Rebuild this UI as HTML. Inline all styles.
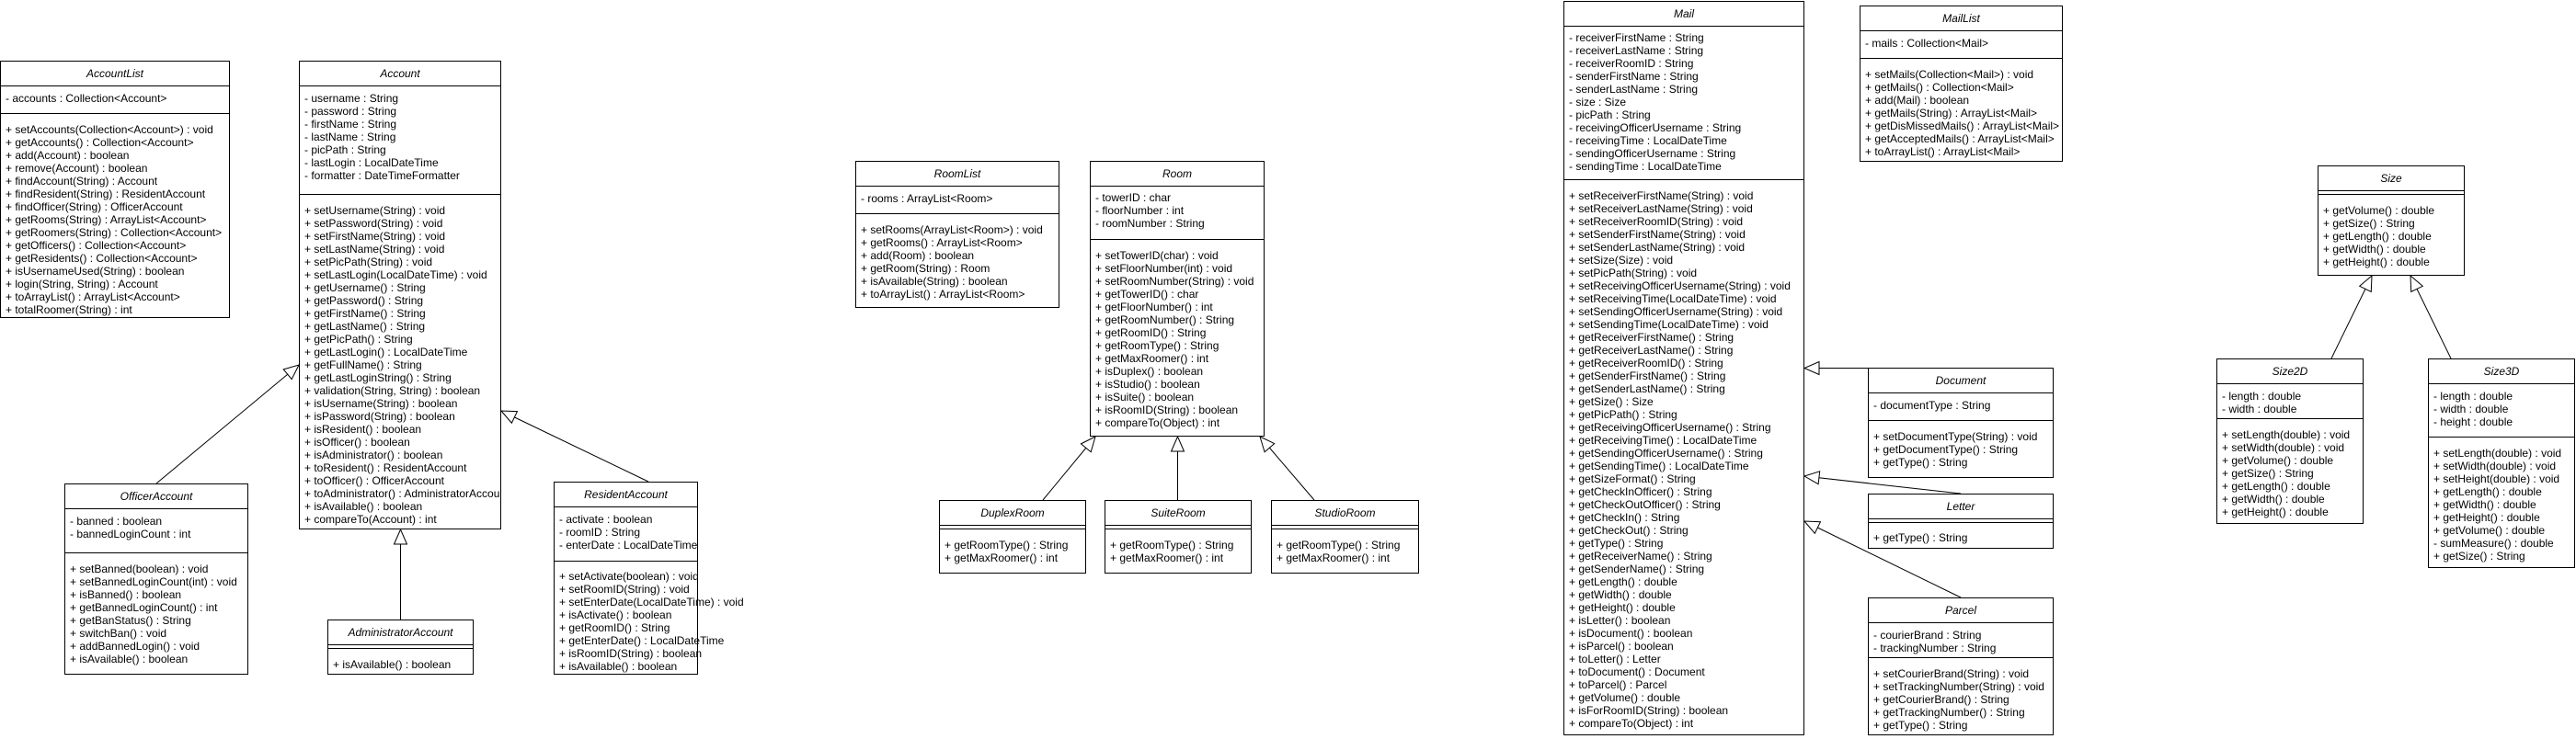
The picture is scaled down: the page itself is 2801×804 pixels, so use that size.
<!DOCTYPE html>
<html><head><meta charset="utf-8"><style>
body{margin:0;width:2801px;height:804px;background:#fff;position:relative;overflow:hidden;font-family:"Liberation Sans",Arial,sans-serif;color:#000}
.b{position:absolute;border:1px solid #000;box-sizing:border-box;background:#fff}
.h{position:absolute;left:0;right:0;top:0;height:26px;line-height:26px;text-align:center;font-style:italic;font-size:12px}
.l{position:absolute;left:0;right:0;border-top:1px solid #000;height:0}
.t{position:absolute;left:5px;line-height:14px;white-space:pre;font-size:12px}
svg{position:absolute;left:0;top:0}
</style></head><body>
<svg width="2801" height="804">
<defs><marker id="tri" markerUnits="userSpaceOnUse" markerWidth="20" markerHeight="18" refX="17" refY="8" orient="auto"><path d="M1,1 L17,8 L1,15 Z" fill="#fff" stroke="#000"/></marker></defs>
<g stroke="#000" stroke-width="1" fill="none">
<line x1="170" y1="526" x2="325" y2="397" marker-end="url(#tri)"/>
<line x1="435.5" y1="674" x2="435.5" y2="576" marker-end="url(#tri)"/>
<line x1="705" y1="524" x2="545" y2="447" marker-end="url(#tri)"/>
<line x1="1134" y1="544" x2="1191" y2="475" marker-end="url(#tri)"/>
<line x1="1280.5" y1="544" x2="1280.5" y2="475" marker-end="url(#tri)"/>
<line x1="1429" y1="544" x2="1370" y2="475" marker-end="url(#tri)"/>
<line x1="2032" y1="400.5" x2="1962" y2="400.5" marker-end="url(#tri)"/>
<line x1="2132" y1="537" x2="1962" y2="518" marker-end="url(#tri)"/>
<line x1="2132" y1="650" x2="1962" y2="567" marker-end="url(#tri)"/>
<line x1="2535" y1="390" x2="2579" y2="300" marker-end="url(#tri)"/>
<line x1="2665" y1="390" x2="2621" y2="300" marker-end="url(#tri)"/>
</g></svg>

<div class="b" style="left:0;top:66px;width:250px;height:280px"><div class="h">AccountList</div><div class="l" style="top:26px"></div>
<div class="t" style="top:33px">- accounts : Collection&lt;Account&gt;</div><div class="l" style="top:56px"></div>
<div class="t" style="top:67px">+ setAccounts(Collection&lt;Account&gt;) : void
+ getAccounts() : Collection&lt;Account&gt;
+ add(Account) : boolean
+ remove(Account) : boolean
+ findAccount(String) : Account
+ findResident(String) : ResidentAccount
+ findOfficer(String) : OfficerAccount
+ getRooms(String) : ArrayList&lt;Account&gt;
+ getRoomers(String) : Collection&lt;Account&gt;
+ getOfficers() : Collection&lt;Account&gt;
+ getResidents() : Collection&lt;Account&gt;
+ isUsernameUsed(String) : boolean
+ login(String, String) : Account
+ toArrayList() : ArrayList&lt;Account&gt;
+ totalRoomer(String) : int</div></div>

<div class="b" style="left:325px;top:66px;width:220px;height:510px;overflow:hidden"><div class="h">Account</div><div class="l" style="top:26px"></div>
<div class="t" style="top:33px">- username : String
- password : String
- firstName : String
- lastName : String
- picPath : String
- lastLogin : LocalDateTime
- formatter : DateTimeFormatter</div><div class="l" style="top:144px"></div>
<div class="t" style="top:155px">+ setUsername(String) : void
+ setPassword(String) : void
+ setFirstName(String) : void
+ setLastName(String) : void
+ setPicPath(String) : void
+ setLastLogin(LocalDateTime) : void
+ getUsername() : String
+ getPassword() : String
+ getFirstName() : String
+ getLastName() : String
+ getPicPath() : String
+ getLastLogin() : LocalDateTime
+ getFullName() : String
+ getLastLoginString() : String
+ validation(String, String) : boolean
+ isUsername(String) : boolean
+ isPassword(String) : boolean
+ isResident() : boolean
+ isOfficer() : boolean
+ isAdministrator() : boolean
+ toResident() : ResidentAccount
+ toOfficer() : OfficerAccount
+ toAdministrator() : AdministratorAccount
+ isAvailable() : boolean
+ compareTo(Account) : int</div></div>

<div class="b" style="left:70px;top:526px;width:200px;height:208px"><div class="h">OfficerAccount</div><div class="l" style="top:26px"></div>
<div class="t" style="top:33px">- banned : boolean
- bannedLoginCount : int</div><div class="l" style="top:74px"></div>
<div class="t" style="top:85px">+ setBanned(boolean) : void
+ setBannedLoginCount(int) : void
+ isBanned() : boolean
+ getBannedLoginCount() : int
+ getBanStatus() : String
+ switchBan() : void
+ addBannedLogin() : void
+ isAvailable() : boolean</div></div>

<div class="b" style="left:356px;top:674px;width:159px;height:60px"><div class="h">AdministratorAccount</div><div class="l" style="top:26px"></div><div class="l" style="top:30px"></div>
<div class="t" style="top:41px">+ isAvailable() : boolean</div></div>

<div class="b" style="left:602px;top:524px;width:157px;height:210px"><div class="h">ResidentAccount</div><div class="l" style="top:26px"></div>
<div class="t" style="top:33px">- activate : boolean
- roomID : String
- enterDate : LocalDateTime</div><div class="l" style="top:85px"></div>
<div class="t" style="top:95px">+ setActivate(boolean) : void
+ setRoomID(String) : void
+ setEnterDate(LocalDateTime) : void
+ isActivate() : boolean
+ getRoomID() : String
+ getEnterDate() : LocalDateTime
+ isRoomID(String) : boolean
+ isAvailable() : boolean</div></div>

<div class="b" style="left:930px;top:175px;width:222px;height:160px"><div class="h">RoomList</div><div class="l" style="top:26px"></div>
<div class="t" style="top:33px">- rooms : ArrayList&lt;Room&gt;</div><div class="l" style="top:56px"></div>
<div class="t" style="top:67px">+ setRooms(ArrayList&lt;Room&gt;) : void
+ getRooms() : ArrayList&lt;Room&gt;
+ add(Room) : boolean
+ getRoom(String) : Room
+ isAvailable(String) : boolean
+ toArrayList() : ArrayList&lt;Room&gt;</div></div>

<div class="b" style="left:1185px;top:175px;width:190px;height:300px"><div class="h">Room</div><div class="l" style="top:26px"></div>
<div class="t" style="top:32px">- towerID : char
- floorNumber : int
- roomNumber : String</div><div class="l" style="top:84px"></div>
<div class="t" style="top:95px">+ setTowerID(char) : void
+ setFloorNumber(int) : void
+ setRoomNumber(String) : void
+ getTowerID() : char
+ getFloorNumber() : int
+ getRoomNumber() : String
+ getRoomID() : String
+ getRoomType() : String
+ getMaxRoomer() : int
+ isDuplex() : boolean
+ isStudio() : boolean
+ isSuite() : boolean
+ isRoomID(String) : boolean
+ compareTo(Object) : int</div></div>

<div class="b" style="left:1021px;top:544px;width:160px;height:80px"><div class="h">DuplexRoom</div><div class="l" style="top:26px"></div><div class="l" style="top:30px"></div>
<div class="t" style="top:41px">+ getRoomType() : String
+ getMaxRoomer() : int</div></div>
<div class="b" style="left:1201px;top:544px;width:160px;height:80px"><div class="h">SuiteRoom</div><div class="l" style="top:26px"></div><div class="l" style="top:30px"></div>
<div class="t" style="top:41px">+ getRoomType() : String
+ getMaxRoomer() : int</div></div>
<div class="b" style="left:1382px;top:544px;width:161px;height:80px"><div class="h">StudioRoom</div><div class="l" style="top:26px"></div><div class="l" style="top:30px"></div>
<div class="t" style="top:41px">+ getRoomType() : String
+ getMaxRoomer() : int</div></div>

<div class="b" style="left:1700px;top:1px;width:262px;height:799px"><div class="h">Mail</div><div class="l" style="top:26px"></div>
<div class="t" style="top:32px">- receiverFirstName : String
- receiverLastName : String
- receiverRoomID : String
- senderFirstName : String
- senderLastName : String
- size : Size
- picPath : String
- receivingOfficerUsername : String
- receivingTime : LocalDateTime
- sendingOfficerUsername : String
- sendingTime : LocalDateTime</div><div class="l" style="top:193px"></div>
<div class="t" style="top:204px">+ setReceiverFirstName(String) : void
+ setReceiverLastName(String) : void
+ setReceiverRoomID(String) : void
+ setSenderFirstName(String) : void
+ setSenderLastName(String) : void
+ setSize(Size) : void
+ setPicPath(String) : void
+ setReceivingOfficerUsername(String) : void
+ setReceivingTime(LocalDateTime) : void
+ setSendingOfficerUsername(String) : void
+ setSendingTime(LocalDateTime) : void
+ getReceiverFirstName() : String
+ getReceiverLastName() : String
+ getReceiverRoomID() : String
+ getSenderFirstName() : String
+ getSenderLastName() : String
+ getSize() : Size
+ getPicPath() : String
+ getReceivingOfficerUsername() : String
+ getReceivingTime() : LocalDateTime
+ getSendingOfficerUsername() : String
+ getSendingTime() : LocalDateTime
+ getSizeFormat() : String
+ getCheckInOfficer() : String
+ getCheckOutOfficer() : String
+ getCheckIn() : String
+ getCheckOut() : String
+ getType() : String
+ getReceiverName() : String
+ getSenderName() : String
+ getLength() : double
+ getWidth() : double
+ getHeight() : double
+ isLetter() : boolean
+ isDocument() : boolean
+ isParcel() : boolean
+ toLetter() : Letter
+ toDocument() : Document
+ toParcel() : Parcel
+ getVolume() : double
+ isForRoomID(String) : boolean
+ compareTo(Object) : int</div></div>

<div class="b" style="left:2022px;top:6px;width:221px;height:170px"><div class="h">MailList</div><div class="l" style="top:26px"></div>
<div class="t" style="top:33px">- mails : Collection&lt;Mail&gt;</div><div class="l" style="top:56px"></div>
<div class="t" style="top:67px">+ setMails(Collection&lt;Mail&gt;) : void
+ getMails() : Collection&lt;Mail&gt;
+ add(Mail) : boolean
+ getMails(String) : ArrayList&lt;Mail&gt;
+ getDisMissedMails() : ArrayList&lt;Mail&gt;
+ getAcceptedMails() : ArrayList&lt;Mail&gt;
+ toArrayList() : ArrayList&lt;Mail&gt;</div></div>

<div class="b" style="left:2031px;top:400px;width:202px;height:120px"><div class="h">Document</div><div class="l" style="top:26px"></div>
<div class="t" style="top:33px">- documentType : String</div><div class="l" style="top:56px"></div>
<div class="t" style="top:67px">+ setDocumentType(String) : void
+ getDocumentType() : String
+ getType() : String</div></div>

<div class="b" style="left:2031px;top:537px;width:202px;height:60px"><div class="h">Letter</div><div class="l" style="top:26px"></div><div class="l" style="top:30px"></div>
<div class="t" style="top:40px">+ getType() : String</div></div>

<div class="b" style="left:2031px;top:650px;width:202px;height:150px"><div class="h">Parcel</div><div class="l" style="top:26px"></div>
<div class="t" style="top:33px">- courierBrand : String
- trackingNumber : String</div><div class="l" style="top:64px"></div>
<div class="t" style="top:75px">+ setCourierBrand(String) : void
+ setTrackingNumber(String) : void
+ getCourierBrand() : String
+ getTrackingNumber() : String
+ getType() : String</div></div>

<div class="b" style="left:2520px;top:180px;width:160px;height:120px"><div class="h">Size</div><div class="l" style="top:26px"></div><div class="l" style="top:30px"></div>
<div class="t" style="top:41px">+ getVolume() : double
+ getSize() : String
+ getLength() : double
+ getWidth() : double
+ getHeight() : double</div></div>

<div class="b" style="left:2410px;top:390px;width:160px;height:180px"><div class="h">Size2D</div><div class="l" style="top:26px"></div>
<div class="t" style="top:33px">- length : double
- width : double</div><div class="l" style="top:64px"></div>
<div class="t" style="top:75px">+ setLength(double) : void
+ setWidth(double) : void
+ getVolume() : double
+ getSize() : String
+ getLength() : double
+ getWidth() : double
+ getHeight() : double</div></div>

<div class="b" style="left:2640px;top:390px;width:160px;height:228px"><div class="h">Size3D</div><div class="l" style="top:26px"></div>
<div class="t" style="top:33px">- length : double
- width : double
- height : double</div><div class="l" style="top:84px"></div>
<div class="t" style="top:95px">+ setLength(double) : void
+ setWidth(double) : void
+ setHeight(double) : void
+ getLength() : double
+ getWidth() : double
+ getHeight() : double
+ getVolume() : double
- sumMeasure() : double
+ getSize() : String</div></div>
</body></html>
